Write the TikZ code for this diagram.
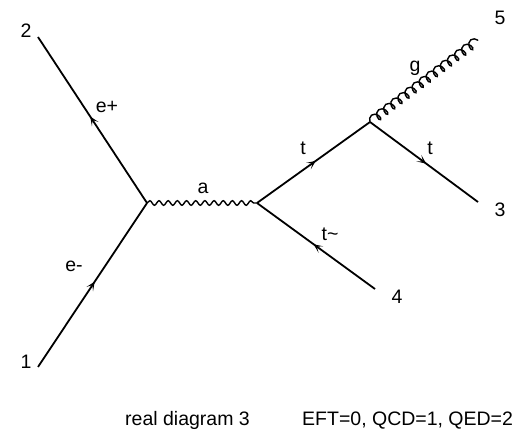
\documentclass[tikz,border=0pt]{standalone}
\usepackage{fontspec}
\setmainfont{Liberation Sans}
\usepackage{tikz}
\usetikzlibrary{arrows.meta, decorations.pathmorphing, decorations.markings}
\tikzstyle{fermion} = [line width=1.8pt, postaction={decorate},
  decoration={markings, mark=at position 0.52 with {\arrow{Stealth[length=9pt, width=8pt, inset=5pt]}}}]

\begin{document}
\begin{tikzpicture}[x=1pt, y=-1pt,
  photon/.style={line width=1.4pt, decorate, decoration={snake, amplitude=2.3pt, segment length=9.17pt}},
  gluon/.style={line width=1.4pt, decorate, decoration={coil, amplitude=4.5pt, segment length=8.9pt, aspect=0.7}},
  lbl/.style={font=\fontsize{19.5}{22}\selectfont, inner sep=0pt}
]
\useasboundingbox (0,0) rectangle (517,430);

% External points and vertices
\coordinate (p1) at (38,367);
\coordinate (p2) at (38,37);
\coordinate (p3) at (478,202);
\coordinate (p4) at (375,289);
\coordinate (p5) at (478,40);
\coordinate (v1) at (147,203);
\coordinate (v2) at (257,203);
\coordinate (v3) at (370,122);

% Leg numbers
\node[lbl] (n1) at (26,362) {1};
\node[lbl] (n2) at (26,31) {2};
\node[lbl] (n3) at (500,210) {3};
\node[lbl] (n4) at (397,297) {4};
\node[lbl] (n5) at (500,18) {5};

% Lines
\draw[fermion] (p1) -- (v1);
\draw[fermion] (v1) -- (p2);
\draw[photon] (v1) -- (v2);
\draw[fermion] (v2) -- (v3);
\draw[fermion] (p4) -- (v2);
\draw[fermion] (v3) -- (p3);
\draw[gluon] (v3) -- (p5);

% Particle labels
\node[lbl] (le+) at (107,107) {e+};
\node[lbl] (le-) at (74,266) {e-};
\node[lbl] (la) at (203,188) {a};
\node[lbl] (lt) at (303,148) {t};
\node[lbl] (ltt) at (430,148) {t};
\node[lbl] (ltb) at (330,234) {t\textasciitilde};
\node[lbl] (lg) at (415,68) {g};

% Caption
\node[lbl, anchor=base west] (cap1) at (125,425) {real diagram 3};
\node[lbl, anchor=base west] (cap2) at (302,425) {EFT=0, QCD=1, QED=2};

\end{tikzpicture}
\end{document}
